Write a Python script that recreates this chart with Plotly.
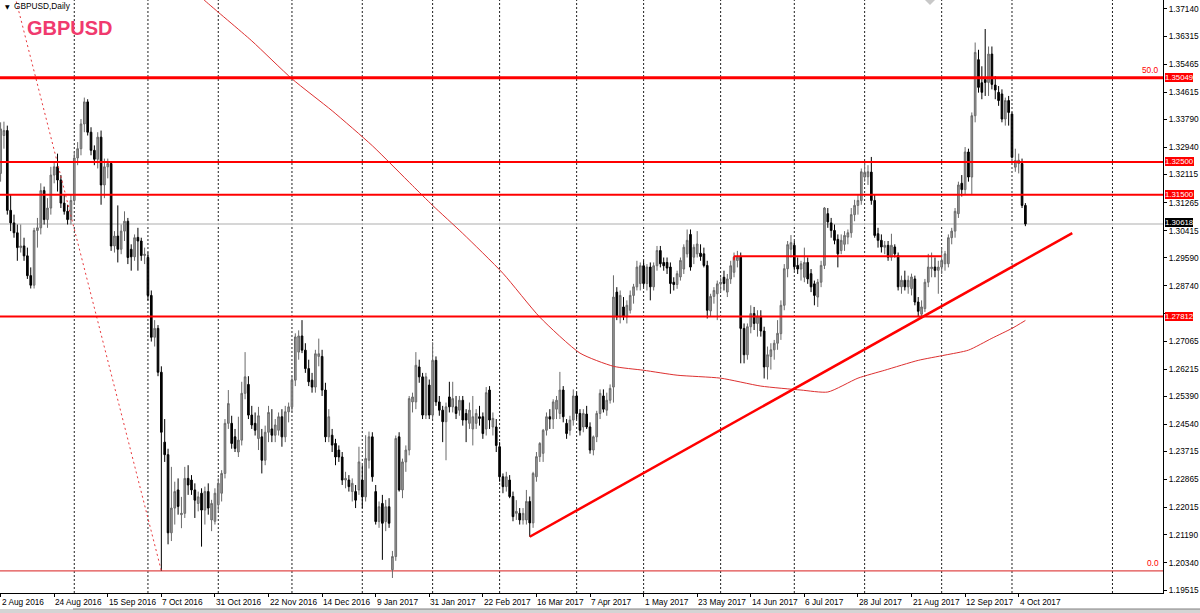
import plotly.graph_objects as go
import pandas as pd

# ---------------- data ----------------
holidays = ["2016-12-26", "2017-01-02"]
bar_dates = [d for d in pd.bdate_range("2016-08-02", "2017-10-06")
             if d.strftime("%Y-%m-%d") not in holidays]

open_ = [
    1.3215, 1.3330, 1.3345, 1.3103, 1.3065, 1.3035, 1.2990, 1.2995, 1.2965, 1.2905,
    1.2876, 1.3042, 1.3050, 1.3163, 1.3075, 1.3110, 1.3210, 1.3235, 1.3195, 1.3125,
    1.3100, 1.3075, 1.3133, 1.3262, 1.3290, 1.3365, 1.3432, 1.3340, 1.3285, 1.3258,
    1.3325, 1.3180, 1.3235, 1.3245, 1.2995, 1.3025, 1.2985, 1.3040, 1.3070, 1.2985,
    1.2962, 1.3021, 1.3010, 1.2966, 1.2960, 1.2845, 1.2718, 1.2745, 1.2612, 1.2400,
    1.2362, 1.2125, 1.2200, 1.2255, 1.2180, 1.2184, 1.2290, 1.2285, 1.2255, 1.2214,
    1.2245, 1.2194, 1.2250, 1.2164, 1.2160, 1.2210, 1.2245, 1.2305, 1.2457, 1.2457,
    1.2416, 1.2370, 1.2406, 1.2548, 1.2575, 1.2482, 1.2457, 1.2411, 1.2416, 1.2345,
    1.2430, 1.2440, 1.2421, 1.2436, 1.2477, 1.2416, 1.2492, 1.2507, 1.2588, 1.2673,
    1.2722, 1.2679, 1.2623, 1.2588, 1.2567, 1.2660, 1.2660, 1.2558, 1.2416, 1.2421,
    1.2396, 1.2376, 1.2355, 1.2285, 1.2285, 1.2250, 1.2250, 1.2255, 1.2285, 1.2234,
    1.2345, 1.2416, 1.2250, 1.2159, 1.2214, 1.2159, 1.2204, 1.2013, 1.2053, 1.2416,
    1.2255, 1.2340, 1.2376, 1.2522, 1.2522, 1.2628, 1.2598, 1.2482, 1.2573, 1.2482,
    1.2648, 1.2522, 1.2497, 1.2462, 1.2537, 1.2507, 1.2507, 1.2497, 1.2527, 1.2487,
    1.2457, 1.2440, 1.2457, 1.2477, 1.2477, 1.2440, 1.2558, 1.2446, 1.2446, 1.2386,
    1.2295, 1.2265, 1.2285, 1.2235, 1.2184, 1.2184, 1.2164, 1.2164, 1.2220, 1.2155,
    1.2295, 1.2356, 1.2366, 1.2436, 1.2477, 1.2470, 1.2500, 1.2487, 1.2558, 1.2457,
    1.2436, 1.2467, 1.2540, 1.2487, 1.2446, 1.2485, 1.2446, 1.2376, 1.2416, 1.2487,
    1.2540, 1.2497, 1.2527, 1.2567, 1.2855, 1.2780, 1.2810, 1.2780, 1.2800, 1.2845,
    1.2871, 1.2881, 1.2935, 1.2881, 1.2931, 1.2871, 1.2935, 1.2981, 1.2945, 1.2945,
    1.2931, 1.2885, 1.2878, 1.2901, 1.2925, 1.2971, 1.3030, 1.2961, 1.2971, 1.2973,
    1.2971, 1.2936, 1.2798, 1.2842, 1.2850, 1.2880, 1.2900, 1.2855, 1.2895, 1.2915,
    1.2951, 1.2961, 1.2745, 1.2665, 1.2750, 1.2790, 1.2760, 1.2782, 1.2737, 1.2628,
    1.2660, 1.2680, 1.2700, 1.2729, 1.2815, 1.2926, 1.2985, 1.2997, 1.2936, 1.2925,
    1.2900, 1.2945, 1.2911, 1.2880, 1.2840, 1.2885, 1.2936, 1.3093, 1.3065, 1.3042,
    1.3015, 1.2981, 1.3000, 1.3022, 1.3035, 1.3090, 1.3118, 1.3133, 1.3204, 1.3205,
    1.3219, 1.3133, 1.3032, 1.3012, 1.2991, 1.2997, 1.2961, 1.2992, 1.2966, 1.2871,
    1.2891, 1.2871, 1.2866, 1.2895, 1.2825, 1.2788, 1.2805, 1.2885, 1.2926, 1.2931,
    1.2921, 1.2931, 1.2941, 1.2941, 1.3020, 1.3040, 1.3093, 1.3185, 1.3166, 1.3280,
    1.3204, 1.3390, 1.3560, 1.3490, 1.3500, 1.3491, 1.3577, 1.3483, 1.3461, 1.3456,
    1.3380, 1.3436, 1.3395, 1.3234, 1.3245, 1.3245, 1.3118,
]
high = [
    1.3370, 1.3372, 1.3360, 1.3150, 1.3090, 1.3060, 1.3060, 1.3020, 1.2990, 1.2930,
    1.3050, 1.3080, 1.3185, 1.3175, 1.3140, 1.3235, 1.3250, 1.3275, 1.3210, 1.3150,
    1.3120, 1.3150, 1.3280, 1.3310, 1.3380, 1.3445, 1.3440, 1.3355, 1.3300, 1.3340,
    1.3345, 1.3260, 1.3260, 1.3250, 1.3040, 1.3118, 1.3060, 1.3100, 1.3080, 1.3000,
    1.3030, 1.3050, 1.3020, 1.2990, 1.2975, 1.2860, 1.2770, 1.2755, 1.2630, 1.2470,
    1.2380, 1.2325, 1.2280, 1.2290, 1.2234, 1.2325, 1.2330, 1.2300, 1.2275, 1.2250,
    1.2260, 1.2265, 1.2275, 1.2225, 1.2260, 1.2290, 1.2315, 1.2470, 1.2558, 1.2480,
    1.2440, 1.2477, 1.2583, 1.2673, 1.2600, 1.2510, 1.2490, 1.2507, 1.2440, 1.2450,
    1.2510, 1.2500, 1.2470, 1.2490, 1.2500, 1.2510, 1.2520, 1.2600, 1.2730, 1.2739,
    1.2770, 1.2700, 1.2650, 1.2610, 1.2680, 1.2714, 1.2680, 1.2580, 1.2500, 1.2440,
    1.2410, 1.2390, 1.2370, 1.2310, 1.2300, 1.2290, 1.2270, 1.2386, 1.2330, 1.2421,
    1.2432, 1.2430, 1.2270, 1.2220, 1.2240, 1.2225, 1.2230, 1.2070, 1.2420, 1.2430,
    1.2350, 1.2390, 1.2540, 1.2550, 1.2673, 1.2650, 1.2610, 1.2610, 1.2590, 1.2703,
    1.2660, 1.2540, 1.2510, 1.2520, 1.2583, 1.2583, 1.2540, 1.2540, 1.2540, 1.2500,
    1.2520, 1.2540, 1.2500, 1.2510, 1.2490, 1.2567, 1.2570, 1.2490, 1.2470, 1.2400,
    1.2305, 1.2310, 1.2300, 1.2250, 1.2224, 1.2200, 1.2200, 1.2255, 1.2235, 1.2310,
    1.2370, 1.2400, 1.2440, 1.2490, 1.2500, 1.2530, 1.2540, 1.2613, 1.2570, 1.2470,
    1.2480, 1.2560, 1.2550, 1.2500, 1.2500, 1.2510, 1.2460, 1.2420, 1.2495, 1.2560,
    1.2560, 1.2550, 1.2575, 1.2906, 1.2870, 1.2860, 1.2840, 1.2830, 1.2860, 1.2880,
    1.2950, 1.2945, 1.2950, 1.2940, 1.2945, 1.2945, 1.2995, 1.2995, 1.2960, 1.2960,
    1.2945, 1.2900, 1.2920, 1.2960, 1.3000, 1.3045, 1.3045, 1.3000, 1.3040, 1.3000,
    1.2990, 1.2950, 1.2850, 1.2870, 1.2890, 1.2900, 1.2920, 1.2910, 1.2950, 1.2975,
    1.2980, 1.2975, 1.2760, 1.2760, 1.2815, 1.2810, 1.2800, 1.2800, 1.2750, 1.2690,
    1.2700, 1.2710, 1.2770, 1.2830, 1.2940, 1.3010, 1.3028, 1.3010, 1.2960, 1.2950,
    1.2990, 1.2960, 1.2925, 1.2890, 1.2895, 1.2950, 1.3113, 1.3110, 1.3080, 1.3060,
    1.3030, 1.3030, 1.3040, 1.3045, 1.3110, 1.3135, 1.3150, 1.3230, 1.3250, 1.3240,
    1.3265, 1.3150, 1.3050, 1.3030, 1.3010, 1.3010, 1.3032, 1.3000, 1.2975, 1.2905,
    1.2920, 1.2905, 1.2911, 1.2905, 1.2840, 1.2830, 1.2895, 1.2971, 1.2975, 1.2960,
    1.2950, 1.2990, 1.2980, 1.3030, 1.3050, 1.3110, 1.3190, 1.3210, 1.3295, 1.3290,
    1.3400, 1.3612, 1.3590, 1.3540, 1.3653, 1.3600, 1.3600, 1.3510, 1.3480, 1.3470,
    1.3445, 1.3450, 1.3400, 1.3290, 1.3275, 1.3260, 1.3125,
]
low = [
    1.3190, 1.3290, 1.3090, 1.3040, 1.3020, 1.2950, 1.2975, 1.2950, 1.2895, 1.2866,
    1.2866, 1.2990, 1.3030, 1.3060, 1.3050, 1.3090, 1.3185, 1.3160, 1.3110, 1.3090,
    1.3060, 1.3060, 1.3120, 1.3240, 1.3270, 1.3340, 1.3330, 1.3270, 1.3240, 1.3230,
    1.3120, 1.3140, 1.3200, 1.2980, 1.2975, 1.2945, 1.2970, 1.3010, 1.2940, 1.2920,
    1.2950, 1.2920, 1.2950, 1.2940, 1.2830, 1.2705, 1.2690, 1.2600, 1.2010, 1.2340,
    1.2090, 1.2100, 1.2150, 1.2180, 1.2139, 1.2170, 1.2240, 1.2240, 1.2170, 1.2190,
    1.2083, 1.2150, 1.2180, 1.2130, 1.2150, 1.2190, 1.2220, 1.2290, 1.2440, 1.2380,
    1.2370, 1.2355, 1.2390, 1.2530, 1.2470, 1.2440, 1.2420, 1.2376, 1.2305, 1.2330,
    1.2400, 1.2400, 1.2400, 1.2420, 1.2386, 1.2400, 1.2460, 1.2490, 1.2570, 1.2650,
    1.2670, 1.2610, 1.2570, 1.2550, 1.2550, 1.2630, 1.2540, 1.2400, 1.2400, 1.2370,
    1.2330, 1.2340, 1.2270, 1.2260, 1.2250, 1.2220, 1.2200, 1.2240, 1.2200, 1.2220,
    1.2320, 1.2280, 1.2150, 1.2140, 1.2043, 1.2130, 1.2140, 1.1988, 1.2040, 1.2250,
    1.2230, 1.2310, 1.2360, 1.2490, 1.2500, 1.2580, 1.2470, 1.2470, 1.2470, 1.2470,
    1.2510, 1.2480, 1.2400, 1.2345, 1.2490, 1.2490, 1.2470, 1.2480, 1.2450, 1.2400,
    1.2440, 1.2390, 1.2440, 1.2450, 1.2410, 1.2420, 1.2440, 1.2420, 1.2370, 1.2280,
    1.2245, 1.2250, 1.2230, 1.2160, 1.2164, 1.2150, 1.2150, 1.2150, 1.2113, 1.2140,
    1.2280, 1.2340, 1.2340, 1.2420, 1.2440, 1.2440, 1.2470, 1.2470, 1.2460, 1.2410,
    1.2420, 1.2450, 1.2470, 1.2420, 1.2430, 1.2440, 1.2365, 1.2360, 1.2400, 1.2470,
    1.2490, 1.2480, 1.2517, 1.2520, 1.2770, 1.2760, 1.2770, 1.2760, 1.2790, 1.2820,
    1.2860, 1.2860, 1.2870, 1.2860, 1.2830, 1.2860, 1.2920, 1.2930, 1.2920, 1.2910,
    1.2850, 1.2860, 1.2865, 1.2890, 1.2910, 1.2960, 1.2920, 1.2940, 1.2960, 1.2950,
    1.2930, 1.2775, 1.2780, 1.2820, 1.2770, 1.2855, 1.2860, 1.2840, 1.2880, 1.2900,
    1.2930, 1.2639, 1.2639, 1.2650, 1.2730, 1.2740, 1.2720, 1.2720, 1.2593, 1.2590,
    1.2620, 1.2650, 1.2680, 1.2710, 1.2800, 1.2900, 1.2960, 1.2920, 1.2910, 1.2890,
    1.2885, 1.2880, 1.2855, 1.2815, 1.2810, 1.2870, 1.2925, 1.3050, 1.3020, 1.3000,
    1.2930, 1.2970, 1.2980, 1.3000, 1.3020, 1.3070, 1.3090, 1.3120, 1.3190, 1.3180,
    1.3120, 1.3020, 1.2990, 1.2975, 1.2970, 1.2950, 1.2950, 1.2960, 1.2860, 1.2850,
    1.2860, 1.2850, 1.2845, 1.2815, 1.2780, 1.2775, 1.2795, 1.2870, 1.2900, 1.2900,
    1.2850, 1.2910, 1.2920, 1.2930, 1.3000, 1.3020, 1.3080, 1.3145, 1.3150, 1.3190,
    1.3150, 1.3370, 1.3460, 1.3440, 1.3450, 1.3450, 1.3470, 1.3440, 1.3420, 1.3370,
    1.3360, 1.3360, 1.3260, 1.3220, 1.3215, 1.3110, 1.3055,
]
close = [
    1.3350, 1.3345, 1.3103, 1.3065, 1.3035, 1.2990, 1.2995, 1.2965, 1.2905, 1.2876,
    1.3042, 1.3050, 1.3163, 1.3075, 1.3110, 1.3210, 1.3235, 1.3195, 1.3125, 1.3100,
    1.3075, 1.3133, 1.3262, 1.3290, 1.3365, 1.3432, 1.3340, 1.3285, 1.3258, 1.3325,
    1.3180, 1.3235, 1.3245, 1.2995, 1.3025, 1.2985, 1.3040, 1.3070, 1.2960, 1.2962,
    1.3020, 1.3010, 1.2966, 1.2970, 1.2845, 1.2718, 1.2745, 1.2612, 1.2430, 1.2362,
    1.2125, 1.2200, 1.2250, 1.2205, 1.2184, 1.2290, 1.2270, 1.2255, 1.2224, 1.2234,
    1.2194, 1.2250, 1.2200, 1.2214, 1.2245, 1.2275, 1.2305, 1.2457, 1.2517, 1.2396,
    1.2381, 1.2406, 1.2548, 1.2598, 1.2482, 1.2452, 1.2436, 1.2480, 1.2345, 1.2430,
    1.2490, 1.2421, 1.2452, 1.2477, 1.2416, 1.2492, 1.2507, 1.2588, 1.2719, 1.2722,
    1.2679, 1.2623, 1.2583, 1.2567, 1.2668, 1.2668, 1.2558, 1.2416, 1.2477, 1.2391,
    1.2355, 1.2355, 1.2285, 1.2290, 1.2265, 1.2275, 1.2224, 1.2340, 1.2234, 1.2350,
    1.2416, 1.2295, 1.2159, 1.2204, 1.2154, 1.2204, 1.2154, 1.2053, 1.2411, 1.2255,
    1.2340, 1.2376, 1.2532, 1.2537, 1.2633, 1.2598, 1.2482, 1.2598, 1.2482, 1.2648,
    1.2522, 1.2497, 1.2462, 1.2507, 1.2507, 1.2532, 1.2487, 1.2527, 1.2467, 1.2467,
    1.2497, 1.2477, 1.2487, 1.2472, 1.2426, 1.2550, 1.2467, 1.2472, 1.2390, 1.2295,
    1.2265, 1.2295, 1.2235, 1.2174, 1.2190, 1.2164, 1.2184, 1.2220, 1.2155, 1.2305,
    1.2356, 1.2396, 1.2436, 1.2477, 1.2470, 1.2522, 1.2527, 1.2558, 1.2477, 1.2426,
    1.2467, 1.2540, 1.2487, 1.2436, 1.2487, 1.2446, 1.2376, 1.2416, 1.2487, 1.2548,
    1.2500, 1.2527, 1.2563, 1.2840, 1.2780, 1.2845, 1.2780, 1.2815, 1.2845, 1.2871,
    1.2931, 1.2935, 1.2881, 1.2931, 1.2871, 1.2935, 1.2981, 1.2941, 1.2935, 1.2928,
    1.2881, 1.2878, 1.2911, 1.2951, 1.2991, 1.3012, 1.2931, 1.2991, 1.3001, 1.2963,
    1.2936, 1.2800, 1.2842, 1.2860, 1.2880, 1.2885, 1.2881, 1.2895, 1.2935, 1.2961,
    1.2961, 1.2745, 1.2665, 1.2750, 1.2790, 1.2760, 1.2782, 1.2737, 1.2628, 1.2665,
    1.2680, 1.2700, 1.2730, 1.2815, 1.2926, 1.2999, 1.3005, 1.2932, 1.2925, 1.2941,
    1.2945, 1.2895, 1.2871, 1.2845, 1.2885, 1.2936, 1.3110, 1.3068, 1.3042, 1.3012,
    1.2971, 1.3012, 1.3027, 1.3035, 1.3090, 1.3118, 1.3133, 1.3220, 1.3218, 1.3220,
    1.3133, 1.3027, 1.3012, 1.2992, 1.2997, 1.2961, 1.2997, 1.2971, 1.2871, 1.2891,
    1.2871, 1.2891, 1.2901, 1.2825, 1.2797, 1.2810, 1.2885, 1.2931, 1.2931, 1.2921,
    1.2931, 1.2951, 1.2971, 1.3020, 1.3040, 1.3100, 1.3180, 1.3166, 1.3280, 1.3204,
    1.3390, 1.3582, 1.3476, 1.3461, 1.3491, 1.3577, 1.3485, 1.3468, 1.3436, 1.3380,
    1.3436, 1.3400, 1.3264, 1.3254, 1.3255, 1.3118, 1.30618,
]

x_tick_bars = list(range(0, 305, 16))
x_tick_text = ["2 Aug 2016", "24 Aug 2016", "15 Sep 2016", "7 Oct 2016", "31 Oct 2016",
               "22 Nov 2016", "14 Dec 2016", "9 Jan 2017", "31 Jan 2017", "22 Feb 2017",
               "16 Mar 2017", "7 Apr 2017", "1 May 2017", "23 May 2017", "14 Jun 2017",
               "6 Jul 2017", "28 Jul 2017", "21 Aug 2017", "12 Sep 2017", "4 Oct 2017"]

y_tick_vals = [1.37140, 1.36315, 1.35465, 1.34615, 1.33790, 1.32940, 1.32115, 1.31265,
               1.30415, 1.29590, 1.28740, 1.27915, 1.27065, 1.26215, 1.25390, 1.24540,
               1.23715, 1.22865, 1.22015, 1.21190, 1.20340, 1.19515]
# 1.27915 is hidden behind the 1.27812 price box in the reference
y_tick_hidden = [1.27915]
y_tick_text = ["" if v in y_tick_hidden else "%.5f" % v for v in y_tick_vals]

# horizontal levels (price, line width)
level_prices = [1.35049, 1.32500, 1.31500, 1.27812]
level_widths = [3, 2, 2, 2]
current_price = 1.30618

# Fibonacci retracement anchors (bar index, price)
fib_bars = [-27, 48]
fib_prices = [1.50003, 1.20095]
fib_level_text = ["50.0", "0.0"]
fib_level_prices = [1.35049, 1.20095]

# trend line and horizontal support segment
trend_bars = [158, 320]
trend_prices = [1.2113, 1.3034]
seg_bars = [219, 281]
seg_price = 1.2964

# moving average readings
ma_bars = [57, 61, 75, 87, 99, 111, 123, 129, 138, 150, 161, 173, 183, 192, 202,
           215, 227, 239, 247, 256, 264, 274, 282, 289, 296, 302, 306]
ma_vals = [1.3778, 1.3739, 1.3617, 1.3502, 1.3405, 1.3299, 1.3178, 1.3118, 1.3033,
           1.2912, 1.2779, 1.2670, 1.2630, 1.2618, 1.2603, 1.2594, 1.2570, 1.2558,
           1.2552, 1.2594, 1.2618, 1.2648, 1.2664, 1.2679, 1.2715, 1.2745, 1.2769]

# ---------------- figure ----------------
FONT = "Tahoma, 'Liberation Sans', Arial, sans-serif"
RED = "#ff0000"
bars = list(range(len(close)))

fig = go.Figure()

fig.add_trace(go.Scatter(x=fib_bars, y=fib_prices, mode="lines",
                         line=dict(color="#e8383c", width=1, dash="2px,3px"),
                         hoverinfo="skip"))
fig.add_trace(go.Scatter(x=ma_bars, y=ma_vals, mode="lines", line_shape="spline",
                         line=dict(color="#dd3030", width=1, smoothing=0.6), hoverinfo="skip"))
fig.add_trace(go.Candlestick(
    x=bars, open=open_, high=high, low=low, close=close,
    increasing=dict(line=dict(color="#6a6a6a", width=1), fillcolor="#9c9c9c"),
    decreasing=dict(line=dict(color="#000000", width=1), fillcolor="#000000"),
    hoverinfo="skip"))
fig.add_trace(go.Scatter(x=trend_bars, y=trend_prices, mode="lines",
                         line=dict(color=RED, width=2.5), hoverinfo="skip"))
fig.add_trace(go.Scatter(x=seg_bars, y=[seg_price, seg_price], mode="lines",
                         line=dict(color=RED, width=2), hoverinfo="skip"))

shapes = []
# month grid (future months extrapolated by calendar days like the terminal)
grid_bars = [i for i in range(1, len(bar_dates)) if bar_dates[i].month != bar_dates[i - 1].month]
last = bar_dates[-1]
nxt = pd.Timestamp(year=last.year + last.month // 12, month=last.month % 12 + 1, day=1)
grid_bars.append(len(bar_dates) - 1 + (nxt - last).days)
for gb in grid_bars:
    shapes.append(dict(type="line", xref="x", yref="paper", x0=gb, x1=gb, y0=0, y1=1,
                       line=dict(color="#202020", width=1, dash="2px,2px"), layer="below"))
# current price line
shapes.append(dict(type="line", xref="paper", yref="y", x0=0, x1=1,
                   y0=current_price, y1=current_price,
                   line=dict(color="#c8c8c8", width=1.5), layer="below"))
# fib 0.0 level
shapes.append(dict(type="line", xref="paper", yref="y", x0=0, x1=1,
                   y0=fib_level_prices[1], y1=fib_level_prices[1],
                   line=dict(color="#e04a4a", width=1.2), layer="below"))
# red horizontal levels
for p, w in zip(level_prices, level_widths):
    shapes.append(dict(type="line", xref="paper", yref="y", x0=0, x1=1, y0=p, y1=p,
                       line=dict(color=RED, width=w), layer="above"))
# little hook at start of support segment
shapes.append(dict(type="line", xref="x", yref="y", x0=seg_bars[0], x1=seg_bars[0],
                   y0=seg_price, y1=seg_price - 0.0012, line=dict(color=RED, width=1.5)))
# bottom window strip
shapes.append(dict(type="rect", xref="paper", yref="paper", x0=0, x1=1200 / 1163,
                   y0=-20 / 593, y1=-16 / 593, fillcolor="#d4d4d4", line=dict(width=0)))
shapes.append(dict(type="line", xref="paper", yref="paper", x0=73 / 1163, x1=1200 / 1163,
                   y0=-16 / 593, y1=-16 / 593, line=dict(color="#808080", width=1)))
# small shift marker at top
shapes.append(dict(type="path", xref="paper", yref="paper",
                   path="M %f,1 L %f,1 L %f,%f Z" % (925 / 1163, 935 / 1163, 930 / 1163, 1 - 5 / 593),
                   fillcolor="#c8c8c8", line=dict(width=0)))

annotations = []
for b, t in zip(x_tick_bars, x_tick_text):
    annotations.append(dict(x=b, y=0, xref="x", yref="paper", text=t, showarrow=False,
                            xanchor="left", yanchor="top", xshift=-1, yshift=-2,
                            font=dict(family=FONT, size=8.3, color="black")))
for p in level_prices:
    annotations.append(dict(x=1, y=p, xref="paper", yref="y", text="%.5f" % p,
                            showarrow=False, xanchor="left", yanchor="middle", xshift=2,
                            bgcolor=RED, borderpad=0, borderwidth=0,
                            font=dict(family=FONT, size=7.8, color="white")))
annotations.append(dict(x=1, y=current_price, xref="paper", yref="y", text="%.5f" % current_price,
                        showarrow=False, xanchor="left", yanchor="middle", xshift=2, yshift=1,
                        bgcolor="black", borderpad=0, borderwidth=0,
                        font=dict(family=FONT, size=7.8, color="white")))
for t, p in zip(fib_level_text, fib_level_prices):
    annotations.append(dict(x=1, y=p, xref="paper", yref="y", text=t, showarrow=False,
                            xanchor="right", yanchor="bottom", xshift=-2, yshift=1,
                            font=dict(family=FONT, size=8.3, color=RED)))
annotations.append(dict(x=3 / 1163, y=1 - 6 / 593, xref="paper", yref="paper", text="▼",
                        showarrow=False, xanchor="left", yanchor="middle",
                        font=dict(family="DejaVu Sans", size=6, color="black")))
annotations.append(dict(x=12 / 1163, y=1 - 6 / 593, xref="paper", yref="paper",
                        text="GBPUSD,Daily", showarrow=False, xanchor="left", yanchor="middle",
                        font=dict(family=FONT, size=8.3, color="black")))
annotations.append(dict(x=25 / 1163, y=1 - 28 / 593, xref="paper", yref="paper",
                        text="<b>GBPUSD</b>", showarrow=False, xanchor="left", yanchor="middle",
                        font=dict(family="'Liberation Sans', Arial, sans-serif", size=20,
                                  color="#f03a6e")))

fig.update_layout(
    width=1200, height=613,
    margin=dict(l=0, r=37, t=0, b=20),
    paper_bgcolor="white", plot_bgcolor="white",
    showlegend=False,
    shapes=shapes, annotations=annotations,
    xaxis=dict(range=[-0.179, 347.09], showgrid=False, zeroline=False,
               showline=True, linecolor="black", linewidth=1,
               ticks="outside", ticklen=3, tickcolor="black",
               tickvals=x_tick_bars, showticklabels=False,
               rangeslider=dict(visible=False), fixedrange=True),
    yaxis=dict(side="right", range=[1.19424, 1.37410], showgrid=False, zeroline=False,
               showline=True, linecolor="black", linewidth=1,
               ticks="outside", ticklen=3, tickcolor="black",
               tickvals=y_tick_vals, ticktext=y_tick_text,
               tickfont=dict(family=FONT, size=8.3, color="black"), fixedrange=True),
)

fig.write_html("out.html", config={"displayModeBar": False},
               post_script="document.body.style.margin='0';document.body.style.overflow='hidden';")
